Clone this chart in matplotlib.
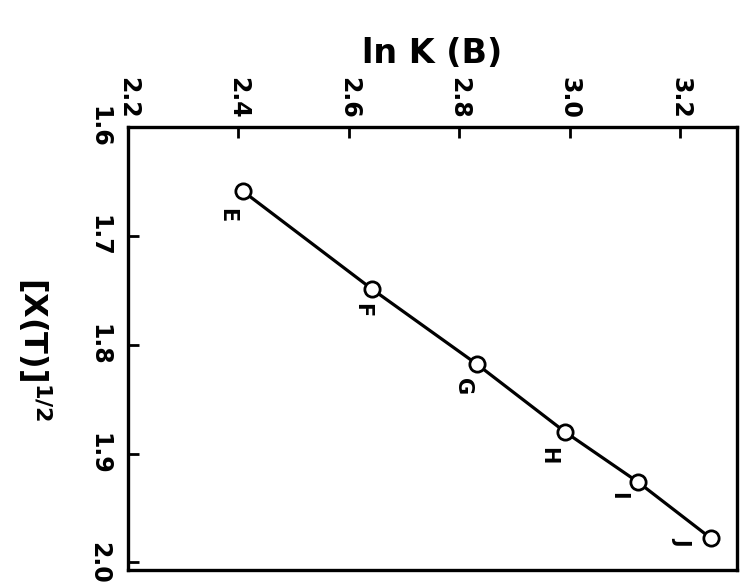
import numpy as np
import matplotlib
matplotlib.use("Agg")
import matplotlib.pyplot as plt

# ln K(B) against [X(T)]^1/2, drawn turned a quarter turn clockwise
samples = ["E", "F", "G", "H", "I", "J"]
ln_k = [2.408, 2.642, 2.832, 2.991, 3.123, 3.256]
sqrt_x = [1.659, 1.749, 1.818, 1.880, 1.926, 1.978]
label_offsets = [(-11, -17), (-7, -15), (-10, -16), (-12, -17), (-14, -10), (-21, -2)]

x_ticks = [2.2, 2.4, 2.6, 2.8, 3.0, 3.2]
y_ticks = [1.6, 1.7, 1.8, 1.9, 2.0]

plt.rcParams['font.family'] = 'DejaVu Sans'
plt.rcParams['font.weight'] = 'bold'

fig = plt.figure(figsize=(7.43, 5.88), dpi=100)
ax = fig.add_axes([0.1723, 0.0306, 0.8197, 0.7535])

ax.plot(ln_k, sqrt_x, color='black', lw=2.3, zorder=2)
ax.plot(ln_k, sqrt_x, 'o', ms=11, mfc='white', mec='black', mew=2, zorder=3)

for s, xv, yv, off in zip(samples, ln_k, sqrt_x, label_offsets):
    ax.annotate(s, (xv, yv), xytext=off, textcoords='offset points',
                rotation=-90, ha='center', va='center', fontsize=15,
                fontweight='bold')

ax.set_xlim(2.2, 3.303)
ax.set_ylim(2.007, 1.6)

ax.xaxis.tick_top()
ax.xaxis.set_label_position('top')
ax.set_xticks(x_ticks)
ax.set_xticklabels([f"{v:.1f}" for v in x_ticks], rotation=-90, fontsize=17,
                   fontweight='bold')
ax.set_yticks(y_ticks)
ax.set_yticklabels([f"{v:.1f}" for v in y_ticks], rotation=-90, fontsize=17,
                   fontweight='bold', va='center')
ax.tick_params(axis='both', direction='in', length=8, width=2, pad=6)
ax.tick_params(axis='y', pad=12)
ax.tick_params(axis='x', top=True, bottom=False)
ax.tick_params(axis='y', left=True, right=False)

ax.set_xlabel("ln K (B)", fontsize=24, fontweight='bold', labelpad=10)
ax.set_ylabel(r"[X(T)]$^{\mathbf{1/2}}$", fontsize=23, fontweight='bold',
              rotation=-90, labelpad=38, va='center')

for sp in ax.spines.values():
    sp.set_linewidth(2.4)

fig.savefig("out.png", dpi=100)
